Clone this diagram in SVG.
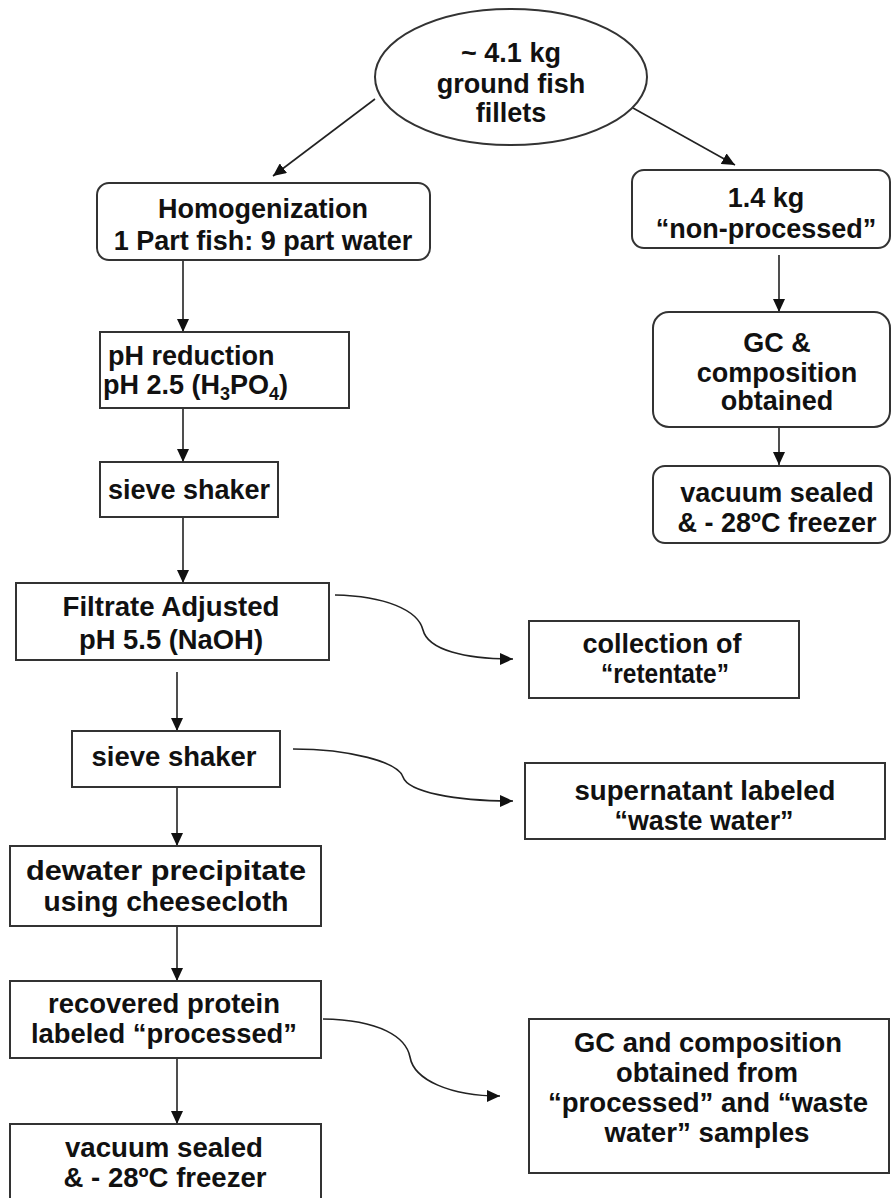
<svg xmlns="http://www.w3.org/2000/svg" width="891" height="1198" viewBox="0 0 891 1198">
<style>
.bx{fill:#fff;stroke:#333;stroke-width:2}
.t{font-family:"Liberation Sans",Arial,sans-serif;font-weight:bold;font-size:27px;fill:#111;text-anchor:middle}
.n{font-family:"Liberation Sans",Arial,sans-serif;font-weight:bold;font-size:28px;fill:#111;text-anchor:middle}
.ln{fill:none;stroke:#222;stroke-width:1.6;marker-end:url(#ah)}
</style>
<defs>
<marker id="ah" markerUnits="userSpaceOnUse" markerWidth="14" markerHeight="12" refX="13" refY="6" orient="auto">
<path d="M0,0 L13,6 L0,12 z" fill="#111"/>
</marker>
</defs>
<rect width="891" height="1198" fill="#fff"/>
<g id="connectors">
<line class="ln" x1="375" y1="99" x2="273" y2="176"/>
<line class="ln" x1="633" y1="108" x2="735" y2="165"/>
<line class="ln" x1="779" y1="255" x2="779" y2="312"/>
<line class="ln" x1="779" y1="427" x2="779" y2="465"/>
<line class="ln" x1="183" y1="260" x2="183" y2="332"/>
<line class="ln" x1="183" y1="408" x2="183" y2="462"/>
<line class="ln" x1="183" y1="517" x2="183" y2="583"/>
<line class="ln" x1="177" y1="672" x2="177" y2="731"/>
<line class="ln" x1="177" y1="787" x2="177" y2="846"/>
<line class="ln" x1="177" y1="926" x2="177" y2="981"/>
<line class="ln" x1="177" y1="1058" x2="177" y2="1124"/>
<path class="ln" d="M335,595 C385,596 418,610 423,630 C428,650 465,659 513,659"/>
<path class="ln" d="M293,749 C350,749 398,762 403,777 C408,792 455,801 513,801"/>
<path class="ln" d="M323,1019 C380,1020 406,1037 410,1057 C414,1080 450,1096 500,1096"/>
</g>
<g id="fish">
<ellipse class="bx" cx="511" cy="77" rx="136" ry="68"/>
<text class="t" x="511" y="62">~ 4.1 kg</text>
<text class="t" x="511" y="93">ground fish</text>
<text class="t" x="511" y="122">fillets</text>
</g>
<g id="homogenization">
<rect class="bx" x="97" y="183" width="333" height="77" rx="12"/>
<text class="t" x="263" y="218">Homogenization</text>
<text class="t" x="263" y="250">1 Part fish: 9 part water</text>
</g>
<g id="nonprocessed">
<rect class="bx" x="632" y="170" width="258" height="78" rx="12"/>
<text class="t" x="766" y="207">1.4 kg</text>
<text class="t" x="766" y="238">“non-processed”</text>
</g>
<g id="gc-right">
<rect class="bx" x="653" y="312" width="237" height="115" rx="16"/>
<text class="t" x="777" y="352">GC &amp;</text>
<text class="t" x="777" y="382">composition</text>
<text class="t" x="777" y="410">obtained</text>
</g>
<g id="vacuum-right">
<rect class="bx" x="653" y="466" width="237" height="77" rx="12"/>
<text class="t" x="777" y="502">vacuum sealed</text>
<text class="t" x="777" y="532">&amp; - 28ºC freezer</text>
</g>
<g id="ph-reduction">
<rect class="bx" x="100" y="332" width="249" height="76"/>
<text class="t" x="108" y="365" style="text-anchor:start">pH reduction</text>
<text class="t" x="103" y="394" style="text-anchor:start">pH 2.5 (H<tspan font-size="18" dy="6">3</tspan><tspan dy="-6">PO</tspan><tspan font-size="18" dy="6">4</tspan><tspan dy="-6">)</tspan></text>
</g>
<g id="sieve1">
<rect class="bx" x="100" y="462" width="178" height="55"/>
<text class="t" x="189" y="499">sieve shaker</text>
</g>
<g id="filtrate">
<rect class="bx" x="16" y="583" width="313" height="77"/>
<text class="n" x="171" y="616" textLength="217" lengthAdjust="spacingAndGlyphs">Filtrate Adjusted</text>
<text class="n" x="171" y="649" textLength="184" lengthAdjust="spacingAndGlyphs">pH 5.5 (NaOH)</text>
</g>
<g id="retentate">
<rect class="bx" x="529" y="621" width="270" height="77"/>
<text class="n" x="662" y="653" textLength="159" lengthAdjust="spacingAndGlyphs">collection of</text>
<text class="n" x="665" y="683" textLength="128" lengthAdjust="spacingAndGlyphs">“retentate”</text>
</g>
<g id="sieve2">
<rect class="bx" x="72" y="731" width="208" height="56"/>
<text class="n" x="174" y="766" textLength="165" lengthAdjust="spacingAndGlyphs">sieve shaker</text>
</g>
<g id="supernatant">
<rect class="bx" x="525" y="763" width="360" height="76"/>
<text class="n" x="705" y="800" textLength="261" lengthAdjust="spacingAndGlyphs">supernatant labeled</text>
<text class="n" x="704" y="830" textLength="179" lengthAdjust="spacingAndGlyphs">“waste water”</text>
</g>
<g id="dewater">
<rect class="bx" x="10" y="846" width="311" height="80"/>
<text class="n" x="166" y="880" textLength="280" lengthAdjust="spacingAndGlyphs">dewater precipitate</text>
<text class="n" x="166" y="911" textLength="245" lengthAdjust="spacingAndGlyphs">using cheesecloth</text>
</g>
<g id="recovered">
<rect class="bx" x="10" y="981" width="311" height="77"/>
<text class="n" x="164" y="1013" textLength="232" lengthAdjust="spacingAndGlyphs">recovered protein</text>
<text class="n" x="164" y="1043" textLength="266" lengthAdjust="spacingAndGlyphs">labeled “processed”</text>
</g>
<g id="gc-bottom">
<rect class="bx" x="529" y="1019" width="360" height="154"/>
<text class="n" x="708" y="1052" textLength="268" lengthAdjust="spacingAndGlyphs">GC and composition</text>
<text class="n" x="707" y="1082" textLength="182" lengthAdjust="spacingAndGlyphs">obtained from</text>
<text class="n" x="708" y="1112" textLength="320" lengthAdjust="spacingAndGlyphs">“processed” and “waste</text>
<text class="n" x="707" y="1142" textLength="205" lengthAdjust="spacingAndGlyphs">water” samples</text>
</g>
<g id="vacuum-left">
<rect class="bx" x="10" y="1124" width="311" height="80"/>
<text class="n" x="164" y="1157" textLength="198" lengthAdjust="spacingAndGlyphs">vacuum sealed</text>
<text class="n" x="165" y="1187" textLength="203" lengthAdjust="spacingAndGlyphs">&amp; - 28ºC freezer</text>
</g>
</svg>
